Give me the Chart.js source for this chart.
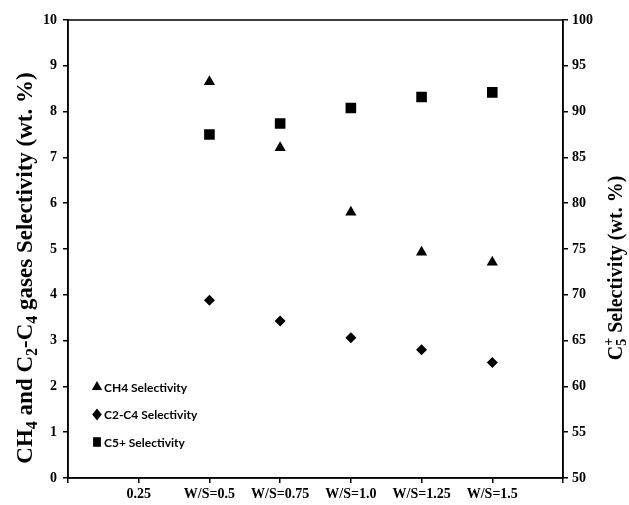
<!DOCTYPE html>
<html>
<head>
<meta charset="utf-8">
<script src="https://cdn.jsdelivr.net/npm/chart.js@4.4.0/dist/chart.umd.min.js"></script>
<style>
  html, body { margin: 0; padding: 0; background: #fff; }
  #wrap { width: 629px; height: 505px; }
</style>
</head>
<body>
<div id="wrap"><canvas id="c" width="629" height="505"></canvas></div>
<script>
// Axis categories (first slot is the reference point, the rest are W/S ratios)
const categories = ['0.25', 'W/S=0.5', 'W/S=0.75', 'W/S=1.0', 'W/S=1.25', 'W/S=1.5'];
// Measured conditions (W/S ratios)
const measured = ['W/S=0.5', 'W/S=0.75', 'W/S=1.0', 'W/S=1.25', 'W/S=1.5'];
// Selectivities, wt.%
const ch4Sel  = [8.65, 7.21, 5.80, 4.93, 4.71];
const c2c4Sel = [3.88, 3.43, 3.06, 2.80, 2.52];
const c5Sel   = [87.5, 88.7, 90.4, 91.6, 92.1];
// Axis ranges
const leftRange  = [0, 10, 1];
const rightRange = [50, 100, 5];

// blank slots at both ends give the padding around the category ticks
const xLabels = [''].concat(categories, ['']);
const toPoints = vals => vals.map((v, i) => ({ x: measured[i], y: v }));

const tickFont = { family: 'Liberation Serif', size: 14, weight: 'bold' };
const titleFamily = 'Liberation Serif';

// rotated axis titles with sub/superscripts
function drawRichVertical(ctx, cx, cy, parts, size) {
  const base = 'bold ' + size + 'px ' + titleFamily;
  const small = 'bold ' + Math.round(size * 0.68) + 'px ' + titleFamily;
  ctx.save();
  ctx.translate(cx, cy);
  ctx.rotate(-Math.PI / 2);
  ctx.textBaseline = 'middle';
  ctx.textAlign = 'left';
  ctx.fillStyle = '#000';
  let total = 0;
  const widths = parts.map(p => {
    let w = 0;
    if (p.t !== undefined) { ctx.font = base; w = ctx.measureText(p.t).width; }
    else {
      ctx.font = small;
      w = Math.max(p.sub ? ctx.measureText(p.sub).width : 0, p.sup ? ctx.measureText(p.sup).width : 0);
    }
    total += w;
    return w;
  });
  let x = -total / 2;
  parts.forEach((p, i) => {
    if (p.t !== undefined) { ctx.font = base; ctx.fillText(p.t, x, 0); }
    else {
      ctx.font = small;
      if (p.sub) ctx.fillText(p.sub, x, size * 0.28);
      if (p.sup) ctx.fillText(p.sup, x, -size * 0.36);
    }
    x += widths[i];
  });
  ctx.restore();
}

function marker(ctx, style, x, y, r) {
  ctx.beginPath();
  if (style === 'triangle') {
    ctx.moveTo(x, y - r);
    ctx.lineTo(x + r * 0.866, y + r * 0.5);
    ctx.lineTo(x - r * 0.866, y + r * 0.5);
    ctx.closePath();
  } else if (style === 'rectRot') {
    ctx.moveTo(x, y - r);
    ctx.lineTo(x + r * 0.8, y);
    ctx.lineTo(x, y + r);
    ctx.lineTo(x - r * 0.8, y);
    ctx.closePath();
  } else {
    ctx.rect(x - r * 0.65, y - r * 0.8, r * 1.3, r * 1.6);
  }
  ctx.fill();
}

const decorations = {
  id: 'decorations',
  afterDraw(chart) {
    const ctx = chart.ctx;
    const a = chart.chartArea;
    // frame
    ctx.save();
    ctx.strokeStyle = '#000';
    ctx.lineWidth = 1.5;
    ctx.strokeRect(a.left, a.top, a.right - a.left, a.bottom - a.top);
    ctx.restore();

    drawRichVertical(ctx, 26, 268, [
      { t: 'CH' }, { sub: '4' }, { t: ' and C' }, { sub: '2' }, { t: '-C' }, { sub: '4' },
      { t: ' gases Selectivity (wt. %)' }
    ], 23);
    drawRichVertical(ctx, 617, 268, [
      { t: 'C' }, { sub: '5', sup: '+' }, { t: ' Selectivity (wt. %)' }
    ], 20);

    // legend inside the plot, lower left
    const items = chart.data.datasets;
    ctx.save();
    ctx.fillStyle = '#000';
    ctx.font = 'bold 12px Lato';
    ctx.textBaseline = 'middle';
    items.forEach((ds, i) => {
      const y = 387 + i * 27.5;
      marker(ctx, ds.pointStyle, 97, y, 6);
      ctx.fillText(ds.label, 104, y + 1);
    });
    ctx.restore();
  }
};

new Chart(document.getElementById('c'), {
  type: 'line',
  data: {
    labels: xLabels,
    datasets: [
      { label: 'CH4 Selectivity', data: toPoints(ch4Sel), yAxisID: 'y',
        pointStyle: 'triangle', pointRadius: 6.5, showLine: false,
        backgroundColor: '#000', borderColor: '#000', borderWidth: 0 },
      { label: 'C2-C4 Selectivity', data: toPoints(c2c4Sel), yAxisID: 'y',
        pointStyle: 'rectRot', pointRadius: 5.5, showLine: false,
        backgroundColor: '#000', borderColor: '#000', borderWidth: 0 },
      { label: 'C5+ Selectivity', data: toPoints(c5Sel), yAxisID: 'y2',
        pointStyle: 'rect', pointRadius: 7.5, showLine: false,
        backgroundColor: '#000', borderColor: '#000', borderWidth: 0 }
    ]
  },
  options: {
    responsive: false,
    animation: false,
    layout: { padding: { top: 20, left: 0, right: 0, bottom: 0 } },
    plugins: { legend: { display: false }, tooltip: { enabled: false } },
    scales: {
      x: {
        type: 'category',
        offset: false,
        grid: { drawOnChartArea: false, drawTicks: true, tickLength: 5, color: '#000', lineWidth: 1.5 },
        border: { display: true, color: '#000', width: 1.5 },
        ticks: { color: '#000', font: tickFont, padding: 3, autoSkip: false, maxRotation: 0 },
        afterFit(s) { s.height = 27; }
      },
      y: {
        position: 'left',
        min: leftRange[0], max: leftRange[1],
        grid: { drawOnChartArea: false, drawTicks: true, tickLength: 5, color: '#000', lineWidth: 1.5 },
        border: { display: true, color: '#000', width: 1.5 },
        ticks: { stepSize: leftRange[2], color: '#000', font: tickFont, padding: 6 },
        afterFit(s) { s.width = 68; }
      },
      y2: {
        position: 'right',
        min: rightRange[0], max: rightRange[1],
        grid: { drawOnChartArea: false, drawTicks: true, tickLength: 5, color: '#000', lineWidth: 1.5 },
        border: { display: true, color: '#000', width: 1.5 },
        ticks: { stepSize: rightRange[2], color: '#000', font: tickFont, padding: 4 },
        afterFit(s) { s.width = 66; }
      }
    }
  },
  plugins: [decorations]
});
</script>
</body>
</html>
